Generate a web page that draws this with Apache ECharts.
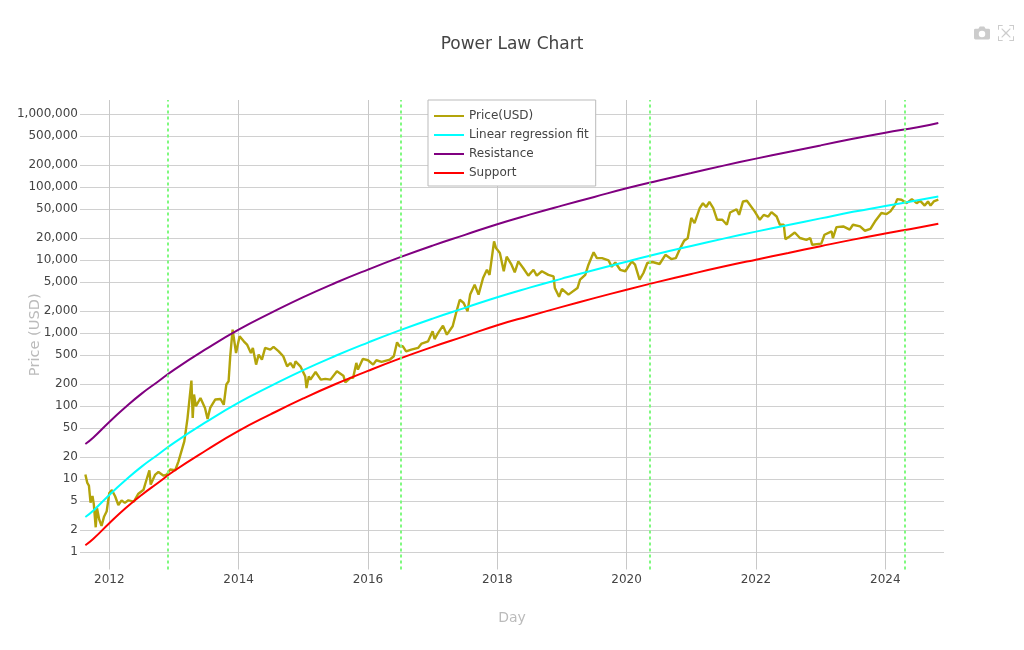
<!DOCTYPE html>
<html>
<head>
<meta charset="utf-8">
<title>Power Law Chart</title>
<script src="https://cdn.jsdelivr.net/npm/echarts@6/dist/echarts.min.js"></script>
<style>
  html, body { margin: 0; padding: 0; background: #fff; }
  #chart { width: 1024px; height: 650px; }
</style>
</head>
<body>
<div id="chart"></div>
<script>
// tick labels
var yearTicks = [2012, 2014, 2016, 2018, 2020, 2022, 2024]
var priceTicks = [1, 2, 5, 10, 20, 50, 100, 200, 500, 1000, 2000, 5000, 10000, 20000, 50000, 100000, 200000, 500000, 1000000]

// halving dates, as decimal years
var halvings = [2012.91, 2016.51, 2020.36, 2024.3]

// price
var priceYears = [
  2011.63, 2011.66, 2011.685, 2011.71, 2011.74, 2011.76, 2011.79, 2011.81, 2011.845, 2011.88, 2011.92, 2011.96,
  2012.0, 2012.04, 2012.09, 2012.14, 2012.19, 2012.24, 2012.295, 2012.38, 2012.45, 2012.53, 2012.56, 2012.62, 2012.64,
  2012.71, 2012.76, 2012.84, 2012.89, 2012.94, 2013.02, 2013.07, 2013.16, 2013.21, 2013.27, 2013.29, 2013.31, 2013.34,
  2013.41, 2013.48, 2013.52, 2013.56, 2013.64, 2013.72, 2013.77, 2013.81, 2013.845, 2013.87, 2013.907, 2013.96,
  2014.015, 2014.08, 2014.13, 2014.19, 2014.22, 2014.27, 2014.31, 2014.36, 2014.41, 2014.49, 2014.54, 2014.62, 2014.69,
  2014.75, 2014.8, 2014.85, 2014.88, 2014.955, 2015.03, 2015.05, 2015.085, 2015.11, 2015.19, 2015.27, 2015.34, 2015.42,
  2015.52, 2015.62, 2015.65, 2015.73, 2015.77, 2015.82, 2015.845, 2015.92,
  2016.0, 2016.08, 2016.13, 2016.21, 2016.34, 2016.4, 2016.45, 2016.49, 2016.54, 2016.59, 2016.67, 2016.775, 2016.83, 2016.93,
  2017.0, 2017.03, 2017.085, 2017.16, 2017.22, 2017.31, 2017.37, 2017.42, 2017.48, 2017.54, 2017.58, 2017.65, 2017.71, 2017.78, 2017.84, 2017.88, 2017.95, 2017.98,
  2018.04, 2018.1, 2018.145, 2018.22, 2018.27, 2018.325, 2018.4, 2018.48, 2018.56, 2018.61, 2018.69, 2018.79, 2018.87, 2018.89, 2018.955,
  2019.0, 2019.1, 2019.24, 2019.28, 2019.36, 2019.41, 2019.49, 2019.54, 2019.62, 2019.72, 2019.77, 2019.825, 2019.9, 2019.98,
  2020.08, 2020.13, 2020.2, 2020.26, 2020.32, 2020.4, 2020.51, 2020.6, 2020.69, 2020.76, 2020.83, 2020.89, 2020.945,
  2021.0, 2021.05, 2021.13, 2021.18, 2021.23, 2021.28, 2021.34, 2021.4, 2021.48, 2021.55, 2021.6, 2021.7, 2021.74, 2021.8, 2021.86, 2021.98,
  2022.06, 2022.12, 2022.19, 2022.24, 2022.32, 2022.37, 2022.43, 2022.455, 2022.52, 2022.6, 2022.68, 2022.78, 2022.84, 2022.87,
  2023.01, 2023.06, 2023.17, 2023.19, 2023.245, 2023.35, 2023.45, 2023.5, 2023.61, 2023.685, 2023.77, 2023.84, 2023.94,
  2024.02, 2024.08, 2024.15, 2024.185, 2024.25, 2024.33, 2024.41, 2024.485, 2024.54, 2024.61, 2024.66, 2024.7, 2024.75, 2024.82
]
var priceValues = [
  11.6, 8.9, 8.2, 4.8, 5.9, 4.6, 2.2, 4.0, 2.8, 2.3, 3.1, 3.65,
  6.5, 7.1, 5.85, 4.45, 5.15, 4.75, 5.15, 4.95, 6.35, 7.2, 8.9, 13.3, 8.45,
  11.6, 12.6, 11.2, 11.6, 13.6, 13.3, 17.6, 33, 69, 225, 69, 145, 100,
  130, 95, 67, 95, 124, 126, 105, 199, 220, 484, 1125, 537,
  910, 777, 700, 537, 630, 372, 510, 436, 630, 597, 650, 566, 484,
  353, 392, 335, 413, 353, 257, 178, 257, 232, 295, 232, 237, 232,
  302, 263, 213, 245, 245, 393, 318, 446,
  427, 372, 427, 407, 437, 485, 753, 663, 663, 567, 598, 631, 724, 777,
  1067, 834, 1012, 1274, 957, 1247, 2000, 2885, 2600, 2000, 3388, 4634, 3388, 5715, 7413, 6310, 18200, 14700,
  12600, 7080, 11200, 8700, 6840, 9660, 7840, 6160, 7413, 6160, 7080, 6310, 6030, 4170, 3160,
  4046, 3388, 4170, 5430, 6310, 8700, 12900, 10700, 10700, 10000, 8130, 9330, 7413, 7080,
  9660, 8700, 5430, 6700, 9180, 9470, 8900, 11900, 10400, 10700, 14700, 18600, 20000,
  38000, 32400, 51900, 60500, 53700, 63000, 51900, 35900, 35900, 30700, 45200, 50100, 41900, 64000, 65300, 46800,
  35900, 41900, 39800, 45700, 39800, 30700, 30700, 19500, 21200, 24000, 20200, 19000, 20200, 16300,
  16900, 22400, 24900, 20200, 28500, 29100, 26300, 30700, 29100, 25400, 26900, 33900, 44400,
  43000, 46800, 57500, 68900, 67600, 60700, 68900, 60700, 65300, 56200, 64000, 56200, 64000, 67600
]

// the three model curves, read at the same dates
var curveYears = [
  2011.63, 2011.75, 2012, 2012.25, 2012.5, 2012.75, 2013, 2013.5, 2014, 2014.5, 2015, 2015.5, 2016, 2016.5, 2017, 2017.5,
  2018, 2018.5, 2019, 2019.5, 2020, 2020.5, 2021, 2021.5, 2022, 2022.5, 2023, 2023.5, 2024, 2024.5, 2024.82
]
var fitValues = [
  3.04, 3.7, 6.1, 9.7, 14.9, 21.7, 31.6, 61, 112, 190, 313, 492, 746, 1104, 1590, 2230,
  3120, 4220, 5610, 7380, 9570, 12400, 15700, 19800, 24700, 30500, 37500, 46100, 55300, 66400, 74600
]
var resistanceValues = [
  30.4, 37, 61, 97, 149, 217, 316, 610, 1120, 1900, 3130, 4920, 7460, 11040, 15900, 22300,
  31200, 42200, 56100, 73800, 97000, 124000, 157000, 198000, 247000, 305000, 375000, 461000, 560000, 664000, 762000
]
var supportValues = [
  1.25, 1.52, 2.5, 4.0, 6.1, 8.9, 13, 25, 46, 78, 128, 202, 306, 453, 652, 915,
  1290, 1730, 2300, 3030, 3950, 5100, 6500, 8200, 10200, 12600, 15600, 19200, 23300, 27900, 31600
]

function zip(xs, ys) {
  return xs.map(function(x, i) {
    return [x, ys[i]]
  })
}

var FONT = '"DejaVu Sans", Verdana, sans-serif'
var CAMERA = 'path://M3 6h4l2-3h6l2 3h4a2 2 0 0 1 2 2v11a2 2 0 0 1-2 2H3a2 2 0 0 1-2-2V8a2 2 0 0 1 2-2zM12 9a4.5 4.5 0 0 0 0 9a4.5 4.5 0 0 0 0-9z'
var EXPAND = 'path://M0 0h7v1.5H1.5V7H0zM17 0h7v7h-1.5V1.5H17zM0 17h1.5v5.5H7V24H0zM22.5 17H24v7h-7v-1.5h5.5zM6 5l6 5.5L18 5l1 1-5.5 6 5.5 6-1 1-6-5.5L6 19l-1-1 5.5-6L5 6z'

var chart = echarts.init(document.getElementById('chart'))
chart.setOption({
  backgroundColor: '#fff',
  animation: false,
  title: {
    text: 'Power Law Chart',
    left: 'center',
    top: 31,
    textStyle: { fontFamily: FONT, fontSize: 17, fontWeight: 'normal', color: '#444' }
  },
  toolbox: {
    right: -5,
    top: 10,
    itemSize: 16,
    itemGap: 8,
    iconStyle: { color: '#ccc', borderWidth: 0 },
    feature: {
      saveAsImage: { icon: CAMERA, title: 'Download plot' },
      myAutoscale: { show: true, title: 'Autoscale', icon: EXPAND, onclick: function() {} }
    }
  },
  legend: {
    left: 428,
    top: 100,
    orient: 'vertical',
    itemWidth: 30,
    itemHeight: 14,
    itemGap: 7,
    padding: [10, 7, 7, 5],
    backgroundColor: '#fff',
    borderColor: '#bbb',
    borderWidth: 1,
    itemStyle: { opacity: 0 },
    textStyle: { fontFamily: FONT, fontSize: 12, color: '#444' }
  },
  grid: { left: 80, right: 80, top: 100, bottom: 80.5, outerBoundsMode: 'none' },
  xAxis: {
    type: 'value',
    name: 'Day',
    nameLocation: 'middle',
    nameGap: 42,
    nameMoveOverlap: false,
    nameTextStyle: { fontFamily: FONT, fontSize: 14, color: '#bbb' },
    min: 2011.547,
    max: 2024.908,
    axisLine: { show: false },
    axisTick: { show: false, customValues: yearTicks },
    axisLabel: {
      customValues: yearTicks,
      margin: 4,
      fontFamily: FONT,
      fontSize: 12,
      color: '#444',
      formatter: function(v) {
        return String(Math.round(v))
      }
    },
    splitLine: { show: true, lineStyle: { color: '#c8c8c8', width: 1 } }
  },
  yAxis: {
    type: 'log',
    logBase: 10,
    name: 'Price (USD)',
    nameLocation: 'middle',
    nameGap: 37,
    nameMoveOverlap: false,
    nameTextStyle: { fontFamily: FONT, fontSize: 14.6, color: '#bbb' },
    min: 0.581,
    max: 1570000,
    axisLine: { show: false },
    axisTick: { show: false, customValues: priceTicks },
    axisLabel: {
      customValues: priceTicks,
      margin: 2,
      padding: [2, 0, 0, 0],
      fontFamily: FONT,
      fontSize: 12,
      color: '#444',
      formatter: function(v) {
        return Math.round(v).toLocaleString('en-US')
      }
    },
    splitLine: { show: true, lineStyle: { color: '#d0d0d0', width: 1 } }
  },
  series: [
    {
      name: 'Price(USD)',
      type: 'line',
      showSymbol: false,
      symbol: 'none',
      silent: true,
      data: zip(priceYears, priceValues),
      lineStyle: { color: '#b3a40a', width: 2.4 },
      itemStyle: { color: '#b3a40a' },
      markLine: {
        silent: true,
        symbol: 'none',
        label: { show: false },
        lineStyle: { color: '#7ff97f', width: 2, type: [3, 3] },
        data: halvings.map(function(h) {
          return { xAxis: h }
        })
      }
    },
    {
      name: 'Linear regression fit',
      type: 'line',
      symbol: 'none',
      smooth: true,
      silent: true,
      data: zip(curveYears, fitValues),
      lineStyle: { color: '#00ffff', width: 2 },
      itemStyle: { color: '#00ffff' }
    },
    {
      name: 'Resistance',
      type: 'line',
      symbol: 'none',
      smooth: true,
      silent: true,
      data: zip(curveYears, resistanceValues),
      lineStyle: { color: '#800080', width: 2 },
      itemStyle: { color: '#800080' }
    },
    {
      name: 'Support',
      type: 'line',
      symbol: 'none',
      smooth: true,
      silent: true,
      data: zip(curveYears, supportValues),
      lineStyle: { color: '#ff0000', width: 2 },
      itemStyle: { color: '#ff0000' }
    }
  ]
})
</script>
</body>
</html>
